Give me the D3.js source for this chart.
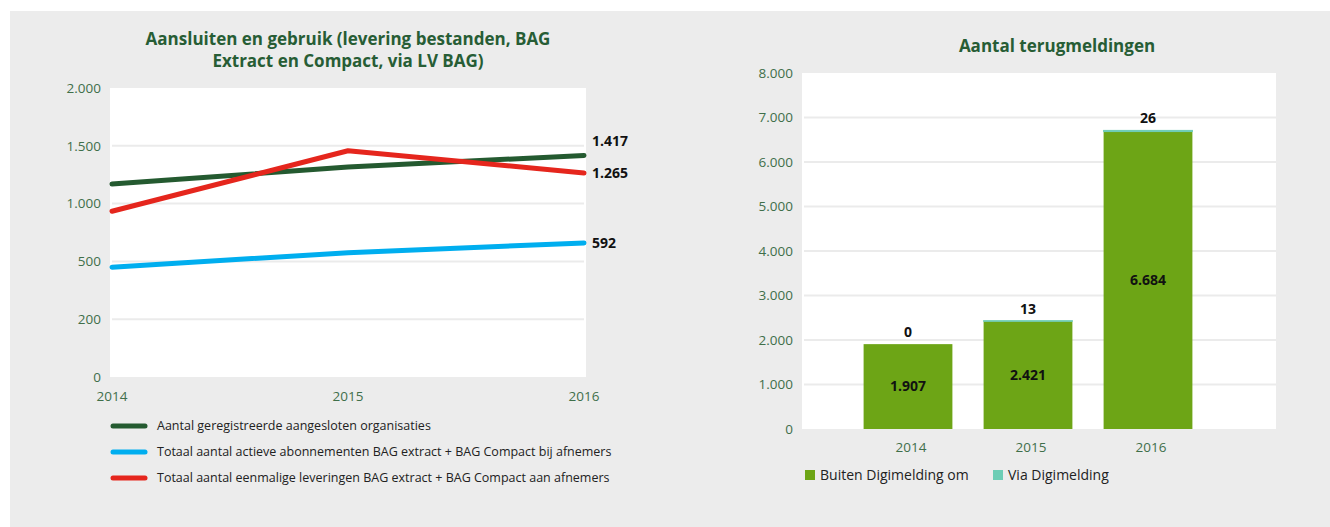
<!DOCTYPE html>
<html>
<head>
<meta charset="utf-8">
<script src="https://cdn.jsdelivr.net/npm/d3@7"></script>
<style>
  body { margin: 0; background: #fff; }
  svg { display: block; font-family: "Open Sans", sans-serif; }
</style>
</head>
<body>
<svg id="chart" width="1330" height="527"></svg>
<script>
// left chart: aansluiten en gebruik
var years = ["2014", "2015", "2016"];
var lineNames = [
    "Aantal geregistreerde aangesloten organisaties",
    "Totaal aantal actieve abonnementen BAG extract + BAG Compact bij afnemers",
    "Totaal aantal eenmalige leveringen BAG extract + BAG Compact aan afnemers"
];
var organisaties = [1170, 1316, 1417];
var abonnementen = [470, 575, 660];
var leveringen = [934, 1457, 1265];
var endLabels = ["1.417", "592", "1.265"];
var lineTicks = [0, 200, 500, 1000, 1500, 2000];
var lineTickLabels = ["0", "200", "500", "1.000", "1.500", "2.000"];

// right chart: terugmeldingen
var barYears = ["2014", "2015", "2016"];
var buiten = [1907, 2421, 6684];
var via = [0, 13, 26];
var barNames = ["Buiten Digimelding om", "Via Digimelding"];
var barTicks = [0, 1000, 2000, 3000, 4000, 5000, 6000, 7000, 8000];

var titleGreen = "#275d35",
    axisGreen = "#3f6f4a",
    lineColors = ["#245a30", "#00aeef", "#e5261d"],
    barColors = ["#6da516", "#6dcdb5"];

var fmt = function(v) { return d3.format(",")(v).replace(/,/g, "."); };

var svg = d3.select("#chart");

// grey panel
svg.append("rect")
    .attr("x", 10).attr("y", 11)
    .attr("width", 1320).attr("height", 516)
    .attr("fill", "#ececec");

// ---------- left chart ----------
var L = {left: 110, right: 586, top: 88, bottom: 377};

var xL = d3.scalePoint().domain(years).range([L.left + 2, L.right - 2]);
var yL = d3.scaleLinear()
    .domain(lineTicks)
    .range(lineTicks.map(function(d, i) {
        return L.bottom - i * (L.bottom - L.top) / (lineTicks.length - 1);
    }));

svg.append("rect")
    .attr("x", L.left).attr("y", L.top)
    .attr("width", L.right - L.left).attr("height", L.bottom - L.top)
    .attr("fill", "#fff");

svg.append("g").selectAll("line")
    .data(lineTicks.slice(1, -1)).enter()
    .append("line")
    .attr("x1", L.left + 2).attr("x2", L.right - 2)
    .attr("y1", function(d) { return yL(d); })
    .attr("y2", function(d) { return yL(d); })
    .attr("stroke", "#ebebeb")
    .attr("stroke-width", 2);

svg.append("g").selectAll("text")
    .data(lineTicks).enter()
    .append("text")
    .attr("x", L.left - 9)
    .attr("y", function(d) { return yL(d); })
    .attr("dy", "0.35em")
    .attr("text-anchor", "end")
    .attr("fill", axisGreen)
    .style("font-size", "13.5px")
    .text(function(d, i) { return lineTickLabels[i]; });

svg.append("g").selectAll("text")
    .data(years).enter()
    .append("text")
    .attr("x", function(d) { return xL(d); })
    .attr("y", 396)
    .attr("dy", "0.35em")
    .attr("text-anchor", "middle")
    .attr("fill", axisGreen)
    .style("font-size", "13.5px")
    .text(function(d) { return d; });

var series = [organisaties, abonnementen, leveringen];

var line = d3.line()
    .x(function(d, i) { return xL(years[i]); })
    .y(function(d) { return yL(d); });

// draw blue, green, red (red on top)
[1, 0, 2].forEach(function(k) {
    svg.append("path")
        .attr("d", line(series[k]))
        .attr("fill", "none")
        .attr("stroke", lineColors[k])
        .attr("stroke-width", 5)
        .attr("stroke-linecap", "round")
        .attr("stroke-linejoin", "round");
});

// end labels, nudge the higher one when two are close
var labelY = series.map(function(s) { return yL(s[s.length - 1]); });
if (Math.abs(labelY[0] - labelY[2]) < 25) {
    if (labelY[0] < labelY[2]) labelY[0] -= 14; else labelY[2] -= 14;
}
svg.append("g").selectAll("text")
    .data(series).enter()
    .append("text")
    .attr("x", L.right + 6)
    .attr("y", function(d, i) { return labelY[i]; })
    .attr("dy", "0.35em")
    .attr("fill", "#111")
    .style("font-weight", "bold")
    .style("font-size", "14px")
    .text(function(d, i) { return endLabels[i]; });

// left legend
var legL = svg.append("g").selectAll("g")
    .data([0, 1, 2]).enter()
    .append("g")
    .attr("transform", function(d, i) { return "translate(113," + (426 + i * 26) + ")"; });
legL.append("line")
    .attr("x1", 0).attr("x2", 32)
    .attr("stroke", function(d) { return lineColors[d]; })
    .attr("stroke-width", 5)
    .attr("stroke-linecap", "round");
legL.append("text")
    .attr("x", 44)
    .attr("dy", "0.35em")
    .attr("fill", "#222")
    .style("font-size", "12.5px")
    .text(function(d) { return lineNames[d]; });

// left title
svg.append("text")
    .attr("x", 348).attr("y", 45)
    .attr("text-anchor", "middle")
    .attr("fill", titleGreen)
    .style("font-weight", "bold")
    .style("font-size", "17px")
    .selectAll("tspan")
    .data(["Aansluiten en gebruik (levering bestanden, BAG", "Extract en Compact, via LV BAG)"]).enter()
    .append("tspan")
    .attr("x", 348)
    .attr("dy", function(d, i) { return i ? 22 : 0; })
    .text(function(d) { return d; });

// ---------- right chart ----------
var R = {left: 802, right: 1276, top: 73, bottom: 429};

var xR = d3.scaleBand().domain(barYears).range([848, 1208])
    .paddingInner(0.26).paddingOuter(0.13);
var yR = d3.scaleLinear().domain([0, 8000]).range([R.bottom, R.top]);

svg.append("rect")
    .attr("x", R.left).attr("y", R.top)
    .attr("width", R.right - R.left).attr("height", R.bottom - R.top)
    .attr("fill", "#fff");

svg.append("g").selectAll("line")
    .data(barTicks.slice(1, -1)).enter()
    .append("line")
    .attr("x1", R.left + 2).attr("x2", R.right)
    .attr("y1", function(d) { return yR(d); })
    .attr("y2", function(d) { return yR(d); })
    .attr("stroke", "#ebebeb")
    .attr("stroke-width", 2);

svg.append("g").selectAll("text")
    .data(barTicks).enter()
    .append("text")
    .attr("x", 793)
    .attr("y", function(d) { return yR(d); })
    .attr("dy", "0.35em")
    .attr("text-anchor", "end")
    .attr("fill", axisGreen)
    .style("font-size", "13.5px")
    .text(function(d) { return fmt(d); });

var stacked = d3.stack().keys([0, 1])
    .value(function(d, k) { return k === 0 ? buiten[d] : via[d]; })(d3.range(barYears.length));

svg.append("g").selectAll("g")
    .data(stacked).enter()
    .append("g")
    .attr("fill", function(d, k) { return barColors[k]; })
    .attr("stroke", function(d, k) { return k ? barColors[k] : "none"; })
    .selectAll("rect")
    .data(function(d) { return d.filter(function(p) { return p[1] > p[0]; }); }).enter()
    .append("rect")
    .attr("x", function(p) { return xR(barYears[p.data]); })
    .attr("width", xR.bandwidth())
    .attr("y", function(p) { return yR(p[1]); })
    .attr("height", function(p) { return yR(p[0]) - yR(p[1]); });

// value labels: inside for buiten, above for via
svg.append("g").selectAll("text")
    .data(buiten).enter()
    .append("text")
    .attr("x", function(d, i) { return xR(barYears[i]) + xR.bandwidth() / 2; })
    .attr("y", function(d) { return (yR(0) + yR(d)) / 2; })
    .attr("dy", "0.35em")
    .attr("text-anchor", "middle")
    .attr("fill", "#111")
    .style("font-weight", "bold")
    .style("font-size", "14px")
    .text(function(d) { return fmt(d); });

svg.append("g").selectAll("text")
    .data(via).enter()
    .append("text")
    .attr("x", function(d, i) { return xR(barYears[i]) + xR.bandwidth() / 2; })
    .attr("y", function(d, i) { return yR(buiten[i] + d) - 12; })
    .attr("dy", "0.35em")
    .attr("text-anchor", "middle")
    .attr("fill", "#111")
    .style("font-weight", "bold")
    .style("font-size", "14px")
    .text(function(d) { return fmt(d); });

svg.append("g").selectAll("text")
    .data(barYears).enter()
    .append("text")
    .attr("x", function(d) { return xR(d) + xR.bandwidth() / 2 + 3; })
    .attr("y", 447)
    .attr("dy", "0.35em")
    .attr("text-anchor", "middle")
    .attr("fill", axisGreen)
    .style("font-size", "13.5px")
    .text(function(d) { return d; });

// right legend
var legR = svg.append("g").selectAll("g")
    .data(barNames).enter()
    .append("g")
    .attr("transform", function(d, i) { return "translate(" + (805 + i * 188) + ",475)"; });
legR.append("rect")
    .attr("y", -5).attr("width", 10).attr("height", 10)
    .attr("fill", function(d, i) { return barColors[i]; });
legR.append("text")
    .attr("x", 15)
    .attr("dy", "0.35em")
    .attr("fill", "#222")
    .style("font-size", "14px")
    .text(function(d) { return d; });

// right title
svg.append("text")
    .attr("x", 1057).attr("y", 52)
    .attr("text-anchor", "middle")
    .attr("fill", titleGreen)
    .style("font-weight", "bold")
    .style("font-size", "17px")
    .text("Aantal terugmeldingen");
</script>
</body>
</html>
